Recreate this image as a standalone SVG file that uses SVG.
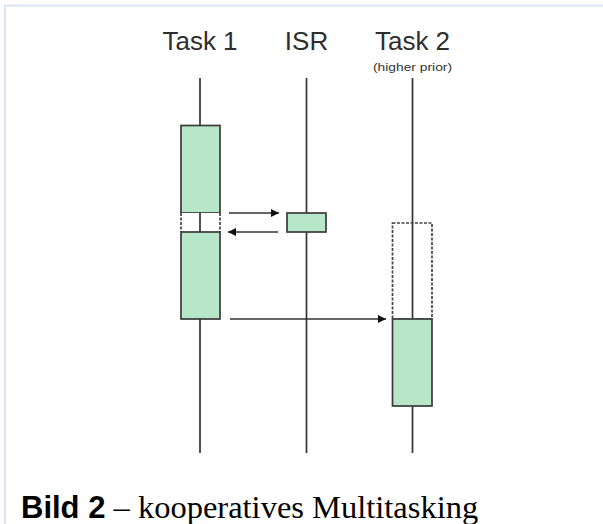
<svg xmlns="http://www.w3.org/2000/svg" width="603" height="524" viewBox="0 0 603 524">
<style>
.title{font-family:"Liberation Sans",Arial,sans-serif;font-size:26px;fill:#2e2e2e;text-anchor:middle}
.life{stroke:#333;stroke-width:1.7;fill:none}
.box{fill:#b7e6c8;stroke:#3a3a3a;stroke-width:1.7}
.dash{fill:none;stroke:#444;stroke-width:1.7;stroke-dasharray:3 1.5}
.arr{stroke:#333;stroke-width:1.7;fill:none;marker-end:url(#ah)}
</style>
<defs>
<marker id="ah" viewBox="0 0 10 10" refX="10" refY="5" markerWidth="11" markerHeight="8" markerUnits="userSpaceOnUse" orient="auto">
<path d="M0,0 L10,5 L0,10 z" fill="#111"/>
</marker>
</defs>
<rect width="603" height="524" fill="#fff"/>
<path d="M5,524 V5.5 H603" fill="none" stroke="#dce6f3" stroke-width="2"/>

<g id="task1">
<text class="title" x="200" y="50">Task 1</text>
<line class="life" x1="200" y1="78" x2="200" y2="453"/>
<rect class="box" x="181" y="125.5" width="39" height="87.5"/>
<rect x="181" y="213" width="39" height="19" fill="#fff"/>
<line class="dash" x1="181" y1="213" x2="181" y2="232"/>
<line class="dash" x1="220" y1="213" x2="220" y2="232"/>
<line class="life" x1="200" y1="213" x2="200" y2="232"/>
<rect class="box" x="181" y="232" width="39" height="87"/>
</g>

<g id="isr">
<text class="title" x="306.5" y="50">ISR</text>
<line class="life" x1="306.5" y1="78" x2="306.5" y2="453"/>
<rect class="box" x="287" y="213" width="39" height="19"/>
</g>

<g id="task2">
<text class="title" x="412.5" y="50">Task 2</text>
<text x="412.5" y="71" font-family="'Liberation Sans Narrow','Liberation Sans',Arial,sans-serif" font-size="11" fill="#333" text-anchor="middle" textLength="79" lengthAdjust="spacingAndGlyphs">(higher prior)</text>
<line class="life" x1="412.5" y1="78" x2="412.5" y2="453"/>
<rect class="dash" x="392.5" y="223" width="39.5" height="96"/>
<rect class="box" x="392.5" y="319" width="39.5" height="87"/>
</g>

<g id="connectors">
<line class="arr" x1="229" y1="213" x2="279" y2="213"/>
<line class="arr" x1="278" y1="232" x2="228" y2="232"/>
<line class="arr" x1="230" y1="319" x2="386" y2="319"/>
</g>

<text x="21" y="518" font-size="31" fill="#000"><tspan font-family="'Liberation Sans',Arial,sans-serif" font-weight="bold">Bild 2</tspan><tspan font-family="'Liberation Serif','Times New Roman',serif" font-size="32.5"> – kooperatives Multitasking</tspan></text>
</svg>
